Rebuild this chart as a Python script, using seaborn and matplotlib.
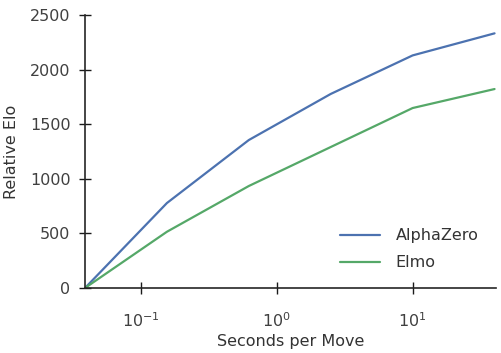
import matplotlib
matplotlib.use('Agg')
import matplotlib.pyplot as plt
import seaborn as sns
import pandas as pd

seconds = [40/1024, 40/256, 40/64, 40/16, 40/4, 40]
alphazero = [0, 778, 1355, 1777, 2130, 2332]
elmo = [0, 515, 934, 1291, 1648, 1822]

df = pd.DataFrame({
    'sec': seconds * 2,
    'elo': alphazero + elmo,
    'player': ['AlphaZero'] * len(seconds) + ['Elmo'] * len(seconds),
})

sns.set_style('white')
plt.rcParams['font.family'] = ['DejaVu Sans']
fig = plt.figure(figsize=(5.01, 3.53), dpi=100)
ax = fig.add_axes([85/501, 1 - 288/353, 411/501, 273/353])

sns.lineplot(data=df, x='sec', y='elo', hue='player',
             palette=['#4C72B0', '#55A868'], linewidth=1.6, ax=ax)
ax.set_xscale('log')
ax.set_xlim(seconds[0], 41)
ax.set_ylim(0, 2500)
ax.set_yticks([0, 500, 1000, 1500, 2000, 2500])
ax.minorticks_off()
ax.tick_params(axis='both', which='major', direction='inout', length=9,
               width=1, color='.1', labelcolor='.25', labelsize=11.5, pad=6,
               bottom=True, left=True)
ax.tick_params(axis='x', pad=12)
ax.set_xlabel('Seconds per Move', fontsize=11.5, color='.2', labelpad=3)
ax.set_ylabel('Relative Elo', fontsize=11.5, color='.2', labelpad=8)
sns.despine(ax=ax)
for s in ['left', 'bottom']:
    ax.spines[s].set_color('.15')
    ax.spines[s].set_linewidth(1.2)

leg = ax.legend(loc='lower right', frameon=False, fontsize=11.5,
                handlelength=2.5, handletextpad=1.0, borderaxespad=0.7,
                labelspacing=0.75)
for t in leg.get_texts():
    t.set_color('.2')

fig.savefig('out.png', dpi=100)
